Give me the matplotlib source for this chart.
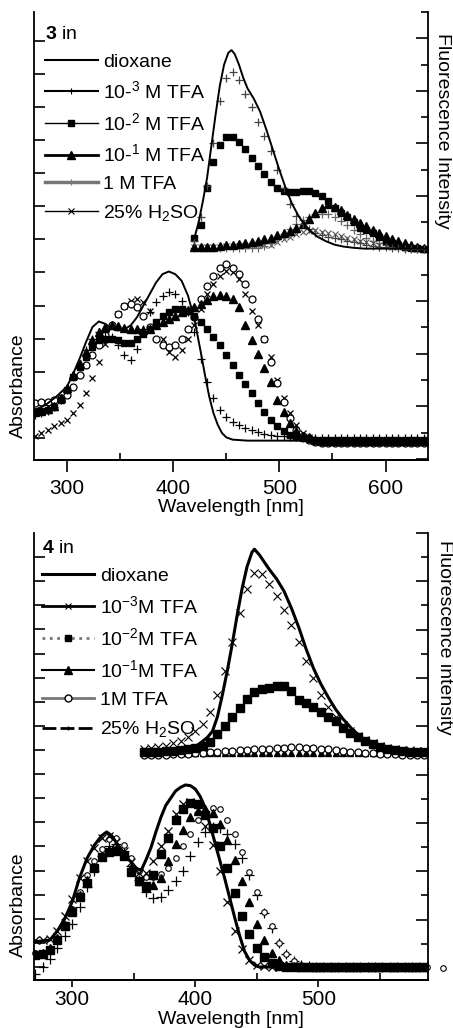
import numpy as np
import matplotlib
matplotlib.use('Agg')
import matplotlib.pyplot as plt
from matplotlib.lines import Line2D
from matplotlib.ticker import MultipleLocator

plt.rcParams['font.family'] = ['Liberation Sans', 'DejaVu Sans']
plt.rcParams['mathtext.fontset'] = 'custom'
plt.rcParams['mathtext.rm'] = 'Liberation Sans'
plt.rcParams['mathtext.bf'] = 'Liberation Sans:bold'
plt.rcParams['mathtext.it'] = 'Liberation Sans:italic'

# ---------------- compound 3 ----------------
# absorbance, sampled every 6 nm from 270 to 636 nm
wl_abs_3 = np.arange(270, 637, 6)
tfa3_abs_3 = [0.70, 0.75, 0.82, 0.95, 1.15, 1.45, 1.85, 2.25, 2.65, 3.00,
              3.20, 3.20, 3.05, 2.80, 2.50, 2.35, 2.70, 3.30, 3.80, 4.10,
              4.30, 4.40, 4.35, 4.15, 3.80, 3.20, 2.40, 1.70, 1.20, 0.85,
              0.62, 0.48, 0.38, 0.30, 0.24, 0.18, 0.13, 0.10, 0.07, 0.05,
              0.03, 0.02, 0.00, 0.00, 0.00, 0.00, 0.00, 0.00, 0.00, 0.00,
              0.00, 0.00, 0.00, 0.00, 0.00, 0.00, 0.00, 0.00, 0.00, 0.00,
              0.00, 0.00]
tfa2_abs_3 = [0.80, 0.82, 0.86, 0.95, 1.15, 1.45, 1.85, 2.15, 2.45, 2.75,
              2.95, 3.00, 3.00, 2.95, 2.88, 2.88, 3.00, 3.15, 3.30, 3.50,
              3.68, 3.82, 3.90, 3.90, 3.85, 3.70, 3.50, 3.30, 3.05, 2.80,
              2.50, 2.20, 1.90, 1.62, 1.35, 1.05, 0.80, 0.55, 0.35, 0.20,
              0.10, 0.04, 0.00, -0.03, -0.05, -0.06, -0.06, -0.06, -0.06, -0.06,
              -0.06, -0.06, -0.06, -0.06, -0.06, -0.06, -0.06, -0.06, -0.06, -0.06,
              -0.06, -0.06]
tfa1_abs_3 = [0.80, 0.82, 0.88, 0.98, 1.20, 1.50, 1.90, 2.25, 2.60, 2.95,
              3.20, 3.35, 3.40, 3.38, 3.33, 3.30, 3.28, 3.25, 3.28, 3.40,
              3.50, 3.60, 3.70, 3.80, 3.88, 3.95, 4.05, 4.18, 4.28, 4.32,
              4.30, 4.20, 3.95, 3.40, 2.95, 2.55, 2.10, 1.70, 1.15, 0.80,
              0.45, 0.20, 0.07, 0.02, -0.05, -0.08, -0.08, -0.08, -0.08, -0.08,
              -0.08, -0.08, -0.08, -0.08, -0.08, -0.08, -0.08, -0.08, -0.08, -0.08,
              -0.08, -0.08]
tfa0_abs_3 = [1.05, 1.08, 1.10, 1.15, 1.20, 1.30, 1.55, 1.90, 2.20, 2.50,
              2.80, 3.10, 3.40, 3.75, 4.00, 4.05, 3.95, 3.70, 3.35, 3.00,
              2.80, 2.75, 2.80, 3.00, 3.30, 3.65, 4.20, 4.60, 4.90, 5.15,
              5.25, 5.15, 4.95, 4.65, 4.20, 3.60, 3.00, 2.30, 1.65, 1.10,
              0.60, 0.25, 0.05, -0.05, -0.12, -0.15, -0.15, -0.15, -0.15, -0.15,
              -0.15, -0.15, -0.15, -0.15, -0.15, -0.15, -0.15, -0.15, -0.15, -0.15,
              -0.15, -0.15]
h2so4_abs_3 = [0.05, 0.15, 0.25, 0.35, 0.45, 0.55, 0.75, 1.00, 1.35, 1.80,
               2.30, 2.85, 3.35, 3.75, 4.00, 4.15, 4.20, 4.10, 3.85, 3.45,
               3.00, 2.60, 2.45, 2.65, 3.00, 3.40, 3.90, 4.35, 4.65, 4.90,
               5.05, 5.00, 4.80, 4.35, 3.85, 3.40, 3.00, 2.45, 1.75, 1.20,
               0.75, 0.40, 0.15, 0.03, -0.05, -0.08, -0.10, -0.10, -0.10, -0.10,
               -0.10, -0.10, -0.10, -0.10, -0.10, -0.10, -0.10, -0.10, -0.10, -0.10,
               -0.10, -0.10]
wl_diox_abs_3 = [270, 280, 290, 300, 306, 312, 318, 324, 330, 336, 342, 348, 354,
                 360, 366, 372, 378, 384, 390, 396, 402, 408, 414, 420, 426, 430,
                 434, 438, 442, 446, 450, 456, 470, 500, 550, 600, 640]
diox_abs_3 = [0.85, 1.00, 1.25, 1.55, 1.95, 2.40, 2.90, 3.35, 3.52, 3.45, 3.30, 3.25, 3.28,
              3.40, 3.65, 4.00, 4.35, 4.70, 4.95, 5.03, 4.95, 4.75, 4.30, 3.60, 2.60, 1.90,
              1.25, 0.75, 0.40, 0.15, 0.02, -0.05, -0.08, -0.08, -0.08, -0.08, -0.08]

# fluorescence, sampled every 6 nm from 420 to 636 nm
wl_fl_3 = np.arange(420, 637, 6)
tfa3_fl_3 = [8.30, 9.20, 10.40, 12.00, 13.60, 14.50, 14.70, 14.40, 13.90, 13.40,
             12.80, 12.30, 11.70, 11.00, 10.30, 9.70, 9.25, 8.95, 8.75, 8.60,
             8.50, 8.45, 8.40, 8.35, 8.30, 8.25, 8.20, 8.15, 8.10, 8.08,
             8.05, 8.03, 8.02, 8.00, 8.00, 8.00, 8.00]
tfa2_fl_3 = [8.40, 8.90, 10.30, 11.30, 11.95, 12.25, 12.25, 12.05, 11.80, 11.45,
             11.15, 10.85, 10.55, 10.30, 10.18, 10.15, 10.17, 10.20, 10.20, 10.10,
             10.00, 9.80, 9.55, 9.35, 9.20, 9.00, 8.80, 8.70, 8.60, 8.45,
             8.30, 8.20, 8.12, 8.07, 8.04, 8.02, 8.00]
tfa1_fl_3 = [8.05, 8.05, 8.06, 8.08, 8.10, 8.12, 8.14, 8.17, 8.20, 8.25,
             8.30, 8.36, 8.42, 8.50, 8.58, 8.68, 8.80, 8.95, 9.12, 9.35,
             9.55, 9.68, 9.60, 9.45, 9.28, 9.12, 8.98, 8.85, 8.72, 8.60,
             8.48, 8.38, 8.28, 8.20, 8.12, 8.07, 8.04]
tfa0_fl_3 = [8.02, 8.02, 8.02, 8.02, 8.02, 8.02, 8.02, 8.02, 8.02, 8.02,
             8.04, 8.10, 8.20, 8.35, 8.55, 8.75, 8.95, 9.10, 9.22, 9.30,
             9.33, 9.30, 9.20, 9.05, 8.88, 8.72, 8.55, 8.42, 8.30, 8.22,
             8.15, 8.10, 8.06, 8.03, 8.02, 8.00, 8.00]
h2so4_fl_3 = [8.05, 8.06, 8.07, 8.08, 8.08, 8.09, 8.10, 8.10, 8.11, 8.12,
              8.13, 8.14, 8.15, 8.25, 8.35, 8.45, 8.55, 8.62, 8.68, 8.70,
              8.65, 8.60, 8.55, 8.48, 8.42, 8.35, 8.30, 8.25, 8.20, 8.15,
              8.10, 8.07, 8.05, 8.03, 8.02, 8.00, 8.00]
wl_diox_fl_3 = [420, 424, 428, 432, 436, 440, 444, 448, 452, 455, 458, 462, 466, 470,
                476, 482, 488, 494, 500, 506, 512, 518, 524, 530, 536, 544, 552, 560,
                570, 580, 600, 620, 640]
diox_fl_3 = [8.40, 9.00, 9.80, 10.70, 11.90, 13.10, 14.20, 15.00, 15.45, 15.55, 15.40,
             15.00, 14.50, 14.10, 13.70, 13.20, 12.50, 11.75, 11.00, 10.30, 9.70, 9.25,
             8.90, 8.65, 8.45, 8.28, 8.15, 8.08, 8.03, 8.00, 8.00, 8.00, 8.00]

# ---------------- compound 4 ----------------
wl_abs_4 = np.arange(270, 589, 6)
tfa3_abs_4 = [1.10, 1.10, 1.15, 1.50, 2.10, 2.80, 3.70, 4.40, 4.95, 5.35,
              5.45, 5.20, 4.80, 4.35, 3.90, 3.90, 4.40, 5.00, 5.65, 6.35,
              6.75, 6.85, 6.55, 5.85, 5.05, 4.00, 2.70, 1.50, 0.75, 0.30,
              0.10, 0.03, 0.00, 0.00, 0.00, 0.00, 0.00, 0.00, 0.00, 0.00,
              0.00, 0.00, 0.00, 0.00, 0.00, 0.00, 0.00, 0.00, 0.00, 0.00,
              0.00, 0.00, 0.00, 0.00]
tfa2_abs_4 = [0.50, 0.55, 0.70, 1.10, 1.70, 2.30, 2.90, 3.50, 4.10, 4.55,
              4.75, 4.80, 4.60, 3.95, 3.55, 3.35, 3.80, 4.70, 5.35, 6.10,
              6.55, 6.80, 6.75, 6.30, 5.75, 5.00, 4.10, 3.05, 2.10, 1.35,
              0.80, 0.40, 0.17, 0.05, 0.00, 0.00, 0.00, 0.00, 0.00, 0.00,
              0.00, 0.00, 0.00, 0.00, 0.00, 0.00, 0.00, 0.00, 0.00, 0.00,
              0.00, 0.00, 0.00, 0.00]
tfa1_abs_4 = [0.55, 0.60, 0.80, 1.20, 1.75, 2.35, 3.00, 3.60, 4.15, 4.60,
              4.85, 4.90, 4.70, 4.10, 3.55, 3.30, 3.40, 3.70, 4.40, 5.10,
              5.70, 6.20, 6.45, 6.55, 6.40, 5.95, 5.25, 4.45, 3.55, 2.70,
              1.80, 1.10, 0.60, 0.30, 0.10, 0.03, 0.00, 0.00, 0.00, 0.00,
              0.00, 0.00, 0.00, 0.00, 0.00, 0.00, 0.00, 0.00, 0.00, 0.00,
              0.00, 0.00, 0.00, 0.00]
wl_tfa0_abs_4 = np.append(wl_abs_4, 601)
tfa0_abs_4 = [0.60, 0.60, 0.70, 1.10, 1.70, 2.40, 3.10, 3.80, 4.40, 4.90,
              5.30, 5.35, 5.05, 4.50, 4.00, 3.75, 3.75, 3.85, 4.10, 4.50,
              5.00, 5.50, 6.10, 6.45, 6.60, 6.55, 6.10, 5.50, 4.75, 3.95,
              3.10, 2.30, 1.70, 1.00, 0.55, 0.25, 0.08, 0.00, 0.00, 0.00,
              0.00, 0.00, 0.00, 0.00, 0.00, 0.00, 0.00, 0.00, 0.00, 0.00,
              0.00, 0.00, 0.00, 0.00, -0.05]
h2so4_abs_4 = [-0.30, 0.00, 0.35, 0.80, 1.30, 1.80, 2.50, 3.30, 4.00, 4.60,
               5.00, 5.10, 4.80, 4.20, 3.60, 3.10, 2.85, 2.90, 3.20, 3.55,
               4.00, 4.60, 5.20, 5.60, 5.80, 5.75, 5.50, 5.10, 4.50, 3.80,
               3.00, 2.25, 1.60, 1.00, 0.55, 0.25, 0.10, 0.03, 0.00, 0.00,
               0.00, 0.00, 0.00, 0.00, 0.00, 0.00, 0.00, 0.00, 0.00, 0.00,
               0.00, 0.00, 0.00, 0.00]
wl_diox_abs_4 = [270, 276, 282, 288, 294, 300, 306, 312, 318, 324,
                 328, 332, 336, 340, 344, 348, 352, 356, 360, 364,
                 368, 372, 376, 380, 384, 388, 392, 396, 400, 404,
                 408, 412, 416, 420, 424, 428, 432, 436, 440, 444,
                 448, 452, 470, 520, 590]
diox_abs_4 = [1.05, 1.08, 1.12, 1.50, 2.00, 2.70, 3.70, 4.50, 5.05, 5.45,
              5.60, 5.45, 5.15, 4.85, 4.55, 4.35, 4.10, 4.00, 4.45, 4.95,
              5.60, 6.20, 6.70, 7.00, 7.30, 7.45, 7.55, 7.52, 7.38, 7.07,
              6.60, 5.90, 5.15, 4.40, 3.65, 2.85, 2.05, 1.30, 0.65, 0.28,
              0.08, 0.00, 0.00, 0.00, 0.00]

wl_fl_4 = np.arange(358, 589, 6)
tfa3_fl_4 = [9.05, 9.10, 9.15, 9.20, 9.30, 9.40, 9.55, 9.80, 10.10, 10.60,
             11.30, 12.30, 13.50, 14.70, 15.70, 16.35, 16.30, 15.90, 15.40, 14.80,
             14.20, 13.50, 12.70, 12.00, 11.30, 10.80, 10.40, 10.05, 9.80, 9.60,
             9.45, 9.30, 9.20, 9.12, 9.06, 9.02, 9.00, 8.98, 8.96]
tfa2_fl_4 = [8.95, 8.95, 8.95, 8.96, 8.98, 9.00, 9.05, 9.10, 9.20, 9.35,
             9.70, 10.00, 10.40, 10.75, 11.15, 11.42, 11.55, 11.60, 11.65, 11.65,
             11.45, 11.10, 10.95, 10.80, 10.60, 10.40, 10.20, 9.95, 9.72, 9.55,
             9.40, 9.28, 9.15, 9.05, 9.00, 8.97, 8.95, 8.95, 8.95]
tfa1_fl_4 = [8.90, 8.90, 8.90, 8.90, 8.90, 8.90, 8.90, 8.90, 8.90, 8.90,
             8.90, 8.90, 8.90, 8.90, 8.90, 8.90, 8.90, 8.90, 8.90, 8.90,
             8.90, 8.90, 8.90, 8.90, 8.90, 8.90, 8.90, 8.90, 8.90, 8.90,
             8.90, 8.90, 8.90, 8.90, 8.90, 8.90, 8.90, 8.90, 8.90]
tfa0_fl_4 = [8.82, 8.82, 8.83, 8.83, 8.84, 8.85, 8.86, 8.88, 8.90, 8.92,
             8.94, 8.96, 8.98, 9.00, 9.02, 9.04, 9.06, 9.08, 9.10, 9.12,
             9.13, 9.13, 9.12, 9.10, 9.07, 9.04, 9.00, 8.97, 8.94, 8.92,
             8.90, 8.88, 8.86, 8.85, 8.84, 8.83, 8.82, 8.82, 8.82]
wl_diox_fl_4 = [358, 370, 380, 390, 398, 404, 410, 414, 418, 422, 426, 430, 434, 438,
                442, 446, 448, 452, 456, 460, 466, 472, 478, 484, 490, 496, 502, 508,
                514, 520, 528, 536, 546, 556, 570, 588]
diox_fl_4 = [8.95, 8.95, 8.98, 9.03, 9.10, 9.30, 9.55, 9.80, 10.40, 11.30, 12.30, 13.40,
             14.60, 15.70, 16.60, 17.20, 17.33, 17.10, 16.80, 16.50, 16.10, 15.60, 14.90,
             14.10, 13.20, 12.40, 11.75, 11.20, 10.70, 10.30, 9.85, 9.50, 9.25, 9.10,
             9.00, 8.95]

labels_3 = ['dioxane', '10-$^{3}$ M TFA', '10-$^{2}$ M TFA', '10-$^{1}$ M TFA',
            '1 M TFA', '25% H$_2$SO']
labels_4 = ['dioxane', '10$^{-3}$M TFA', '10$^{-2}$M TFA', '10$^{-1}$M TFA',
            '1M TFA', '25% H$_2$SO']

FS = 14
fig = plt.figure(figsize=(4.53, 10.28), dpi=100)


def frame(ax, axr, xlim, llim, rlim, lticks, xlen, xpad):
    ax.set_xlim(*xlim)
    ax.set_ylim(*llim)
    for a in (ax, axr):
        a.spines['top'].set_visible(False)
        for s in a.spines.values():
            s.set_linewidth(1.3)
    ax.spines['right'].set_visible(False)
    axr.spines['left'].set_visible(False)
    ax.set_yticks(lticks)
    ax.tick_params(axis='y', direction='in', length=8, width=1.2, labelleft=False)
    axr.yaxis.set_major_locator(MultipleLocator(2))
    axr.yaxis.set_minor_locator(MultipleLocator(1))
    axr.set_ylim(*rlim)
    axr.tick_params(axis='y', which='major', direction='in', length=8.5, width=1.2,
                    labelright=False)
    axr.tick_params(axis='y', which='minor', direction='in', length=5, width=1.2)
    ax.xaxis.set_major_locator(MultipleLocator(100))
    ax.xaxis.set_minor_locator(MultipleLocator(50))
    ax.tick_params(axis='x', which='major', direction='out', length=xlen, width=1.2,
                   labelsize=15, pad=xpad)
    ax.tick_params(axis='x', which='minor', direction='in', length=5, width=1.2)


# ===== top panel (compound 3) =====
ax1 = fig.add_axes([34 / 453, 1 - 460 / 1028, 394 / 453, 448 / 1028])
ax1r = ax1.twinx()
frame(ax1, ax1r, (269, 640), (-0.665, 12.87), (-0.04, 17.0), range(0, 13), 8.5, 5)

mk = dict(ls='none', color='black')
ax1.plot(wl_abs_3, h2so4_abs_3, marker='x', ms=5, mew=0.9, **mk)
ax1.plot(wl_abs_3, tfa0_abs_3, marker='o', ms=5, mfc='white', mew=0.9, **mk)
ax1.plot(wl_abs_3, tfa1_abs_3, marker='^', ms=5.5, **mk)
ax1.plot(wl_abs_3, tfa2_abs_3, marker='s', ms=5, **mk)
ax1.plot(wl_abs_3, tfa3_abs_3, marker='+', ms=6, mew=0.9, **mk)
ax1.plot(wl_diox_abs_3, diox_abs_3, color='black', lw=1.4)

ax1r.plot(wl_fl_3, h2so4_fl_3, ls='none', marker='x', ms=5, mew=0.8, color='#555555')
ax1r.plot(wl_fl_3, tfa0_fl_3, ls='none', marker='+', ms=6, mew=0.9, color='#666666')
ax1r.plot(wl_fl_3, tfa1_fl_3, marker='^', ms=5.5, **mk)
ax1r.plot(wl_fl_3, tfa2_fl_3, marker='s', ms=5, **mk)
ax1r.plot(wl_fl_3, tfa3_fl_3, ls='none', marker='+', ms=6, mew=0.9, color='#444444')
ax1r.plot(wl_diox_fl_3, diox_fl_3, color='black', lw=1.4)

h3 = [Line2D([], [], color='black', lw=1.5),
      Line2D([], [], color='black', lw=1.5, marker='+', ms=5, mew=0.8),
      Line2D([], [], color='black', lw=1.0, marker='s', ms=5),
      Line2D([], [], color='black', lw=2.0, marker='^', ms=5.5),
      Line2D([], [], color='#777777', lw=2.5, marker='+', ms=5, mew=0.8),
      Line2D([], [], color='black', lw=1.0, marker='x', ms=5, mew=0.8)]
ax1r.legend(h3, labels_3, loc='upper left', bbox_to_anchor=(0.028, 0.968),
            frameon=False, fontsize=FS, title='$\\mathbf{3}$ in', title_fontsize=FS,
            alignment='left', handlelength=2.7, handletextpad=0.3, labelspacing=0.5,
            borderpad=0, borderaxespad=0)

fig.text(18 / 453, 1 - 386 / 1028, 'Absorbance', rotation=90, ha='center',
         va='center', fontsize=FS)
fig.text(443 / 453, 1 - 131 / 1028, 'Fluorescence Intensity', rotation=270,
         ha='center', va='center', fontsize=FS)
fig.text(231 / 453, 1 - 508 / 1028, 'Wavelength [nm]', ha='center', va='center',
         fontsize=FS)

# ===== bottom panel (compound 4) =====
ax2 = fig.add_axes([34 / 453, 1 - 980 / 1028, 394 / 453, 447 / 1028])
ax2r = ax2.twinx()
frame(ax2, ax2r, (269, 589), (-0.54, 18.0), (-0.5, 18.0), range(0, 18), 5, 2)

ax2.plot(wl_abs_4, h2so4_abs_4, marker='+', ms=7, mew=0.9, **mk)
ax2.plot(wl_tfa0_abs_4, tfa0_abs_4, marker='o', ms=4, mfc='white', mew=0.8,
         clip_on=False, **mk)
ax2.plot(wl_abs_4, tfa1_abs_4, marker='^', ms=6, **mk)
ax2.plot(wl_abs_4, tfa2_abs_4, marker='s', ms=5.5, **mk)
ax2.plot(wl_abs_4, tfa3_abs_4, marker='x', ms=6, mew=0.9, **mk)
ax2.plot(wl_diox_abs_4, diox_abs_4, color='black', lw=2.2)

ax2r.plot(wl_fl_4, tfa1_fl_4, marker='^', ms=5, **mk)
ax2r.plot(wl_fl_4, tfa0_fl_4, marker='o', ms=5, mfc='white', mew=0.9, **mk)
ax2r.plot(wl_fl_4, tfa2_fl_4, marker='s', ms=5.5, **mk)
ax2r.plot(wl_fl_4, tfa3_fl_4, marker='x', ms=6, mew=0.8, **mk)
ax2r.plot(wl_diox_fl_4, diox_fl_4, color='black', lw=2.2)

h4 = [Line2D([], [], color='black', lw=2.2),
      Line2D([], [], color='black', lw=2.0, marker='x', ms=5, mew=0.8),
      Line2D([], [], color='#777777', lw=2.0, ls=':', marker='s', ms=5, mfc='black', mec='black'),
      Line2D([], [], color='black', lw=1.5, marker='^', ms=5.5),
      Line2D([], [], color='#777777', lw=2.0, marker='o', ms=5, mfc='white', mec='black'),
      Line2D([], [], color='black', lw=2.0, ls=(0, (5, 1.5)), marker='|', ms=3)]
ax2r.legend(h4, labels_4, loc='upper left', bbox_to_anchor=(0.02, 0.985),
            frameon=False, fontsize=FS, title='$\\mathbf{4}$ in', title_fontsize=FS,
            alignment='left', handlelength=2.7, handletextpad=0.3, labelspacing=0.53,
            borderpad=0, borderaxespad=0)

fig.text(18 / 453, 1 - 905 / 1028, 'Absorbance', rotation=90, ha='center',
         va='center', fontsize=FS)
fig.text(445 / 453, 1 - 637 / 1028, 'Fluorescence intensity', rotation=270,
         ha='center', va='center', fontsize=FS)
fig.text(231 / 453, 1 - 1019 / 1028, 'Wavelength [nm]', ha='center', va='center',
         fontsize=FS)

fig.savefig('out.png', dpi=100)
